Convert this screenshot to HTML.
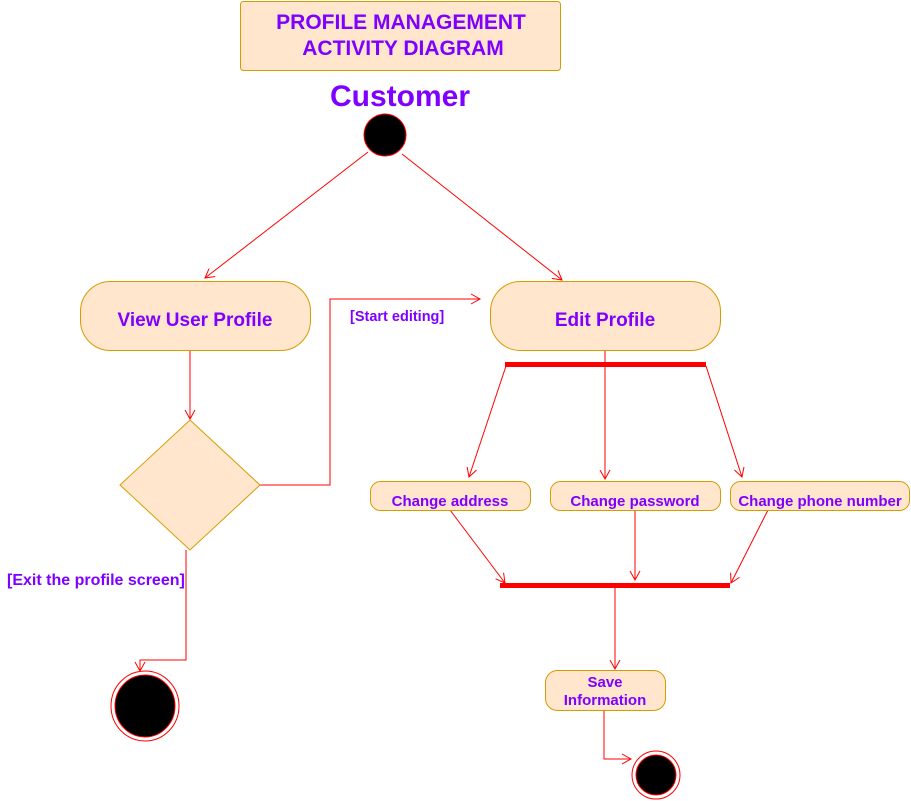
<!DOCTYPE html>
<html><head><style>
html,body{margin:0;padding:0;background:#fff;}
svg{display:block;font-family:"Liberation Sans",Arial,sans-serif;font-weight:bold;}
</style></head><body>
<svg width="911" height="801" viewBox="0 0 911 801" xmlns="http://www.w3.org/2000/svg">
<defs>
<marker id="a" markerWidth="12" markerHeight="12" refX="10" refY="6" orient="auto" markerUnits="userSpaceOnUse">
<path d="M1,1 L10,6 L1,11" fill="none" stroke="#f00" stroke-width="1"/>
</marker>
</defs>
<rect x="240.5" y="1.5" width="320" height="69" rx="3" fill="#ffe6cc" stroke="#d79b00"/>
<text x="401" y="29" font-size="21" fill="#7f00ff" text-anchor="middle">PROFILE MANAGEMENT</text>
<text x="403" y="55" font-size="21" fill="#7f00ff" text-anchor="middle">ACTIVITY DIAGRAM</text>
<text x="400" y="106" font-size="30" fill="#7f00ff" text-anchor="middle">Customer</text>
<circle cx="385" cy="135" r="21" fill="#000" stroke="#f00"/>
<g stroke="#f00" stroke-width="1" fill="none">
<line x1="368" y1="152" x2="205" y2="278" marker-end="url(#a)"/>
<line x1="402" y1="154" x2="562" y2="280" marker-end="url(#a)"/>
<line x1="190" y1="350" x2="190" y2="419" marker-end="url(#a)"/>
<polyline points="260,485 330,485 330,299 480,299" marker-end="url(#a)"/>
<line x1="605" y1="350" x2="605" y2="479" marker-end="url(#a)"/>
<line x1="506" y1="366" x2="469" y2="477" marker-end="url(#a)"/>
<line x1="706" y1="366" x2="742" y2="477" marker-end="url(#a)"/>
<line x1="450" y1="510" x2="505" y2="583" marker-end="url(#a)"/>
<line x1="635" y1="510" x2="635" y2="580" marker-end="url(#a)"/>
<line x1="768" y1="510" x2="731" y2="583" marker-end="url(#a)"/>
<line x1="615" y1="588" x2="615" y2="669" marker-end="url(#a)"/>
<polyline points="604,710 604,759 631,759" marker-end="url(#a)"/>
<polyline points="186,550 186,660 140,660 140,671" marker-end="url(#a)"/>
</g>
<rect x="80.5" y="281.5" width="230" height="69" rx="30" fill="#ffe6cc" stroke="#d79b00"/>
<text x="195" y="326" font-size="19" fill="#7f00ff" text-anchor="middle">View User Profile</text>
<rect x="490.5" y="281.5" width="230" height="69" rx="30" fill="#ffe6cc" stroke="#d79b00"/>
<text x="605" y="326" font-size="19" fill="#7f00ff" text-anchor="middle">Edit Profile</text>
<polygon points="190,420 260,485 190,550 120,485" fill="#ffe6cc" stroke="#d79b00"/>
<text x="350" y="321" font-size="14.5" fill="#7f00ff">[Start editing]</text>
<text x="7" y="585" font-size="16" fill="#7f00ff">[Exit the profile screen]</text>
<rect x="505" y="362" width="201" height="5" fill="#f00"/>
<rect x="500" y="583" width="230" height="5" fill="#f00"/>
<rect x="370.5" y="481.5" width="160" height="29" rx="10" fill="#ffe6cc" stroke="#d79b00"/>
<text x="450" y="506" font-size="15" fill="#7f00ff" text-anchor="middle">Change address</text>
<rect x="550.5" y="481.5" width="170" height="29" rx="10" fill="#ffe6cc" stroke="#d79b00"/>
<text x="635" y="506" font-size="15" fill="#7f00ff" text-anchor="middle">Change password</text>
<rect x="730.5" y="481.5" width="179" height="29" rx="10" fill="#ffe6cc" stroke="#d79b00"/>
<text x="820" y="506" font-size="15" fill="#7f00ff" text-anchor="middle">Change phone number</text>
<rect x="545.5" y="670.5" width="120" height="40" rx="12" fill="#ffe6cc" stroke="#d79b00"/>
<text x="605" y="687" font-size="15" fill="#7f00ff" text-anchor="middle">Save</text>
<text x="605" y="705" font-size="15" fill="#7f00ff" text-anchor="middle">Information</text>
<ellipse cx="145" cy="706" rx="34" ry="35" fill="#fff" stroke="#f00"/>
<ellipse cx="145" cy="706" rx="30" ry="31" fill="#000" stroke="#f00"/>
<circle cx="656" cy="775" r="24" fill="#fff" stroke="#f00"/>
<circle cx="656" cy="775" r="20" fill="#000" stroke="#f00"/>
</svg>
</body></html>
